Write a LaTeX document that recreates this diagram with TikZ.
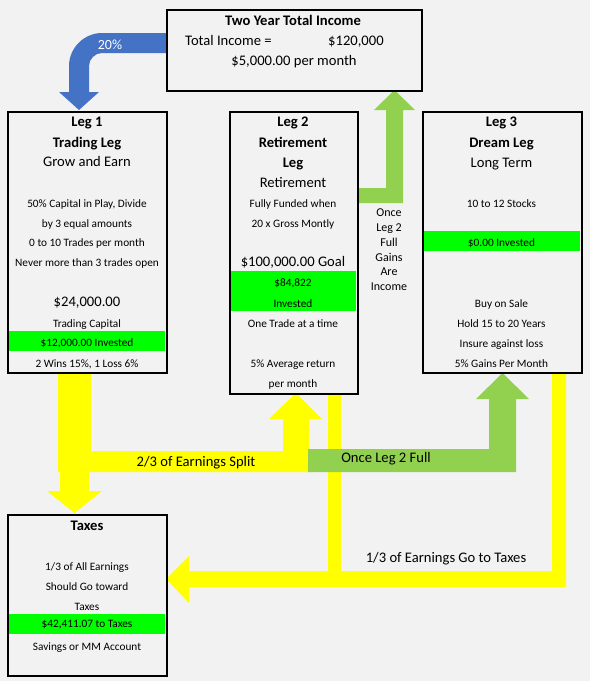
\documentclass[tikz,border=0pt]{standalone}
\usepackage{fontspec}
\setmainfont{Carlito}
\definecolor{bg}{HTML}{F2F2F2}
\definecolor{yel}{HTML}{FFFF00}
\definecolor{band}{HTML}{00FF00}
\definecolor{lgreen}{HTML}{92D050}
\definecolor{blueA}{HTML}{4472C4}
\begin{document}
\begin{tikzpicture}[x=1pt,y=-1pt,
  box/.style={draw=black,line width=2pt,anchor=north west,inner sep=0pt},
  sm/.style={inner sep=0pt,text height=6.8pt,text depth=0pt,font=\fontsize{11.3}{13}\selectfont},
  lg/.style={inner sep=0pt,text height=8.8pt,text depth=0pt,font=\fontsize{14.6}{17}\selectfont},
  lgb/.style={lg,font=\fontsize{14.6}{17}\selectfont\bfseries},
  side/.style={inner sep=0pt,text height=7.3pt,text depth=0pt,font=\fontsize{12}{14}\selectfont},
  bandfill/.style={fill=band},
  yshape/.style={fill=yel},
  gshape/.style={fill=lgreen},
  bshape/.style={fill=blueA}]
\useasboundingbox (0,0) rectangle (590,696);
\fill[white] (0,0) rectangle (590,696);
\fill[bg] (0,0) rectangle (590,681);

% blue curved arrow
\fill[bshape] (166,33) -- (102,33) .. controls (84,33) and (69,48) .. (69,66)
  -- (69,92) -- (59,92) -- (79,110) -- (99,92) -- (89,92) -- (89,66)
  .. controls (89,59) and (95,53) .. (102,53) -- (166,53) -- cycle;
\node[inner sep=0pt,text height=8.4pt,text depth=0pt,font=\fontsize{14}{16}\selectfont,text=white] (pct) at (110,45) {20\%};

% green arrow to top box
\fill[gshape] (357,188) -- (386,188) -- (386,110) -- (374,110) -- (394.5,90) -- (415,110)
  -- (403,110) -- (403,203) -- (357,203) -- cycle;

% yellow arrows
\fill[yshape] (58,372) -- (91,372) -- (91,451) -- (283,451) -- (283,419) -- (269,419)
  -- (296,393) -- (322,419) -- (309,419) -- (309,472) -- (89,472) -- (89,491)
  -- (102,491) -- (74.5,513) -- (47,491) -- (60,491) -- (60,472) -- (58,472) -- cycle;
\fill[yshape] (328,393) rectangle (341,571);
\fill[yshape] (552,372) -- (566,372) -- (566,587) -- (189,587) -- (189,603) -- (166,579)
  -- (189,556) -- (189,571) -- (552,571) -- cycle;

% green arrow to leg 3
\fill[gshape] (308,449) -- (489,449) -- (489,399) -- (476,399) -- (502.5,373) -- (529,399)
  -- (516,399) -- (516,472) -- (308,472) -- cycle;

% arrow labels
\node[lg] (lsplit) at (196,462) {2/3 of Earnings Split};
\node[lg] (lfull) at (386,458) {Once Leg 2 Full};
\node[lg] (ltax) at (446,558) {1/3 of Earnings Go to Taxes};
\node[side] (g1) at (389,213) {Once};
\node[side] (g2) at (389,228) {Leg 2};
\node[side] (g3) at (389,243) {Full};
\node[side] (g4) at (389,258) {Gains};
\node[side] (g5) at (389,272) {Are};
\node[side] (g6) at (389,287) {Income};

% green bands inside boxes
\fill[bandfill] (8,331) rectangle (165,351);
\fill[bandfill] (230,271) rectangle (356,311);
\fill[bandfill] (423,231) rectangle (580,251);
\fill[bandfill] (8,614) rectangle (165,634);

% boxes
\node[box,minimum width=255pt,minimum height=81pt] (top) at (166,9) {};
\node[box,minimum width=159pt,minimum height=261pt] (leg1) at (7,111) {};
\node[box,minimum width=128pt,minimum height=282pt] (leg2) at (229,111) {};
\node[box,minimum width=159pt,minimum height=261pt] (leg3) at (422,111) {};
\node[box,minimum width=159pt,minimum height=161pt] (taxes) at (7,514) {};

% top box text
\node[lgb] (t1) at (293,21) {Two Year Total Income};
\node[lg,anchor=west] (t2) at (185,41) {Total Income =};
\node[lg,anchor=west] (t3) at (328,41) {\$120,000};
\node[lg] (t4) at (294,61) {\$5,000.00 per month};

% leg 1 text
\node[lgb] (a1) at (87,122) {Leg 1};
\node[lgb] (a2) at (87,143) {Trading Leg};
\node[lg] (a3) at (87,162) {Grow and Earn};
\node[sm] (a4) at (87,204) {50\% Capital in Play, Divide};
\node[sm] (a5) at (87,224) {by 3 equal amounts};
\node[sm] (a6) at (87,243) {0 to 10 Trades per month};
\node[sm] (a7) at (87,263) {Never more than 3 trades open};
\node[lg] (a8) at (87,302) {\$24,000.00};
\node[sm] (a9) at (87,324) {Trading Capital};
\node[sm] (a10) at (87,343) {\$12,000.00 Invested};
\node[sm] (a11) at (87,364) {2 Wins 15\%, 1 Loss 6\%};

% leg 2 text
\node[lgb] (b1) at (293,122) {Leg 2};
\node[lgb] (b2) at (293,143) {Retirement};
\node[lgb] (b3) at (293,163) {Leg};
\node[lg] (b4) at (293,183) {Retirement};
\node[sm] (b5) at (293,204) {Fully Funded when};
\node[sm] (b6) at (293,224) {20 x Gross Montly};
\node[lg] (b7) at (293,262) {\$100,000.00 Goal};
\node[sm] (b8) at (293,283) {\$84,822};
\node[sm] (b9) at (293,304) {Invested};
\node[sm] (b10) at (293,324) {One Trade at a time};
\node[sm] (b11) at (293,364) {5\% Average return};
\node[sm] (b12) at (293,384) {per month};

% leg 3 text
\node[lgb] (c1) at (501.5,122) {Leg 3};
\node[lgb] (c2) at (501.5,143) {Dream Leg};
\node[lg] (c3) at (501.5,163) {Long Term};
\node[sm] (c4) at (501.5,204) {10 to 12 Stocks};
\node[sm] (c5) at (501.5,243) {\$0.00 Invested};
\node[sm] (c6) at (501.5,304) {Buy on Sale};
\node[sm] (c7) at (501.5,324) {Hold 15 to 20 Years};
\node[sm] (c8) at (501.5,344) {Insure against loss};
\node[sm] (c9) at (501.5,364) {5\% Gains Per Month};

% taxes text
\node[lgb] (d1) at (87,526) {Taxes};
\node[sm] (d2) at (87,567) {1/3 of All Earnings};
\node[sm] (d3) at (87,587) {Should Go toward};
\node[sm] (d4) at (87,607) {Taxes};
\node[sm] (d5) at (87,624) {\$42,411.07 to Taxes};
\node[sm] (d6) at (87,647) {Savings or MM Account};
\end{tikzpicture}
\end{document}
